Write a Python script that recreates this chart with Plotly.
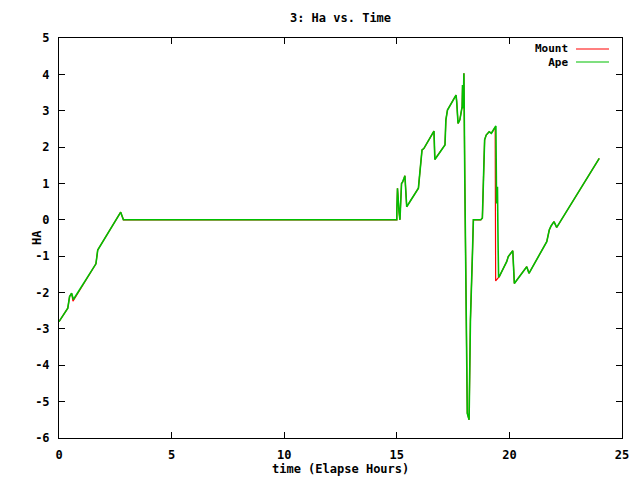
import plotly.graph_objects as go

# Ape series (hours, HA)
ape_t = [0.00, 0.39, 0.47, 0.56, 0.64, 1.64, 1.72, 2.74, 2.86,
         15.00, 15.00, 15.03, 15.10, 15.14, 15.21, 15.25, 15.32, 15.36, 15.44,
         15.96, 16.00, 16.07, 16.12, 16.20, 16.65, 16.69, 17.14, 17.18, 17.25,
         17.63, 17.66, 17.72, 17.80, 17.90, 17.92, 17.95, 17.98, 18.02, 18.07,
         18.13, 18.21, 18.24, 18.27, 18.36, 18.40, 18.73, 18.80, 18.85, 18.90,
         18.97, 19.10, 19.20, 19.33, 19.40, 19.43, 19.47, 19.50, 19.52, 19.55,
         19.88, 19.95, 20.15, 20.18, 20.22, 20.77, 20.87, 21.66, 21.77, 21.85,
         21.98, 22.10, 23.99]
ape_ha = [-2.80, -2.43, -2.11, -2.02, -2.19, -1.21, -0.83, 0.21, 0.00,
          0.00, 0.22, 0.87, 0.22, 0.00, 1.00, 1.03, 1.14, 1.21, 0.36,
          0.87, 1.14, 1.70, 1.92, 1.96, 2.44, 1.66, 2.06, 2.75, 3.02,
          3.43, 3.25, 2.65, 2.75, 3.11, 3.71, 3.07, 4.03, 1.10, -2.75,
          -5.32, -5.50, -4.13, -2.75, -0.91, 0.00, 0.00, 0.05, 1.14, 2.20,
          2.33, 2.42, 2.38, 2.52, 2.58, 0.45, 0.91, -0.78, -1.58, -1.56,
          -1.15, -1.01, -0.85, -1.29, -1.75, -1.29, -1.47, -0.60, -0.28, -0.17,
          -0.05, -0.21, 1.69]

# Mount series (hours, HA)
mount_t = [0.00, 0.39, 0.47, 0.56, 0.62, 1.64, 1.72, 2.74, 2.86,
           15.00, 15.00, 15.03, 15.10, 15.14, 15.21, 15.25, 15.32, 15.36, 15.44,
           15.96, 16.00, 16.07, 16.12, 16.20, 16.65, 16.69, 17.14, 17.18, 17.25,
           17.63, 17.66, 17.72, 17.80, 17.90, 17.92, 17.95, 17.98, 18.02, 18.07,
           18.13, 18.21, 18.24, 18.27, 18.36, 18.40, 18.73, 18.80, 18.85, 18.90,
           18.97, 19.10, 19.20, 19.33, 19.37, 19.37, 19.38, 19.39, 19.52, 19.55,
           19.88, 19.95, 20.15, 20.18, 20.22, 20.77, 20.87, 21.66, 21.77, 21.85,
           21.98, 22.10, 23.99]
mount_ha = [-2.80, -2.43, -2.11, -2.02, -2.24, -1.21, -0.83, 0.21, 0.00,
            0.00, 0.22, 0.87, 0.22, 0.00, 1.00, 1.03, 1.14, 1.21, 0.36,
            0.87, 1.14, 1.70, 1.92, 1.96, 2.44, 1.66, 2.06, 2.75, 3.02,
            3.43, 3.25, 2.65, 2.75, 3.11, 3.71, 3.07, 4.03, 1.10, -2.75,
            -5.32, -5.50, -4.13, -2.75, -0.91, 0.00, 0.00, 0.05, 1.14, 2.20,
            2.33, 2.42, 2.38, 2.52, 2.55, 2.15, 0.45, -1.68, -1.58, -1.56,
            -1.15, -1.01, -0.85, -1.29, -1.75, -1.29, -1.47, -0.60, -0.28, -0.17,
            -0.05, -0.21, 1.69]

series_names = ["Mount", "Ape"]
series_colors = ["#ff0000", "#00c000"]

x_ticks = [0, 5, 10, 15, 20, 25]
y_ticks = [-6, -5, -4, -3, -2, -1, 0, 1, 2, 3, 4, 5]

FONT = "DejaVu Sans Mono"

fig = go.Figure()
fig.add_trace(go.Scatter(x=mount_t, y=mount_ha, mode="lines", name=series_names[0],
                         line=dict(color=series_colors[0], width=1.2), showlegend=False))
fig.add_trace(go.Scatter(x=ape_t, y=ape_ha, mode="lines", name=series_names[1],
                         line=dict(color=series_colors[1], width=1.6), showlegend=False))

axis_common = dict(showline=True, linecolor="black", linewidth=1, mirror="ticks",
                   ticks="inside", ticklen=6, tickcolor="black", tickwidth=1,
                   showgrid=False, zeroline=False, automargin=False,
                   tickfont=dict(family=FONT, size=12, color="black", weight="bold"))

fig.update_xaxes(range=[0, 25], tickvals=x_ticks, ticktext=[str(v) for v in x_ticks],
                 ticklabelstandoff=6, **axis_common)
fig.update_yaxes(range=[-6, 5], tickvals=y_ticks, ticktext=[str(v) for v in y_ticks],
                 ticklabelstandoff=6, **axis_common)

# axis titles
fig.add_annotation(xref="paper", yref="paper", x=0.5, y=-(469 - 438) / 400,
                   text="<b>time (Elapse Hours)</b>", showarrow=False,
                   xanchor="center", yanchor="middle",
                   font=dict(family=FONT, size=12, color="black"))
fig.add_annotation(xref="paper", yref="paper", x=-(59 - 37) / 563, y=0.5,
                   text="<b>HA</b>", showarrow=False, textangle=-90,
                   xanchor="center", yanchor="middle",
                   font=dict(family=FONT, size=12, color="black"))

# legend drawn gnuplot-style: text right-aligned, sample line to its right
leg_y = [49, 62]
fig.add_annotation(xref="paper", yref="paper", x=(570 - 59) / 563,
                   y=1 - ((leg_y[0] + leg_y[1]) / 2 - 38) / 400,
                   text="<br>".join("<b>" + nm + "</b>" for nm in series_names),
                   showarrow=False, xanchor="right", yanchor="middle", align="right",
                   font=dict(family=FONT, size=11, color="black"))
for i, col in enumerate(series_colors):
    ypos = 1 - (leg_y[i] - 38) / 400
    fig.add_shape(type="line", xref="paper", yref="paper",
                  x0=(576 - 59) / 563, x1=(609 - 59) / 563, y0=ypos, y1=ypos,
                  line=dict(color=col, width=1.2))

fig.update_layout(
    width=640, height=480,
    margin=dict(l=59, r=18, t=38, b=42, autoexpand=False),
    paper_bgcolor="white", plot_bgcolor="white",
    title=dict(text="<b>3: Ha vs. Time</b>", x=340.5 / 640, xanchor="center",
               y=1 - 18 / 480, yanchor="middle",
               font=dict(family=FONT, size=12, color="black")),
    showlegend=False,
)

fig.write_html("out.html", config={"displayModeBar": False},
               post_script="document.body.style.margin='0';document.body.style.overflow='hidden';")
